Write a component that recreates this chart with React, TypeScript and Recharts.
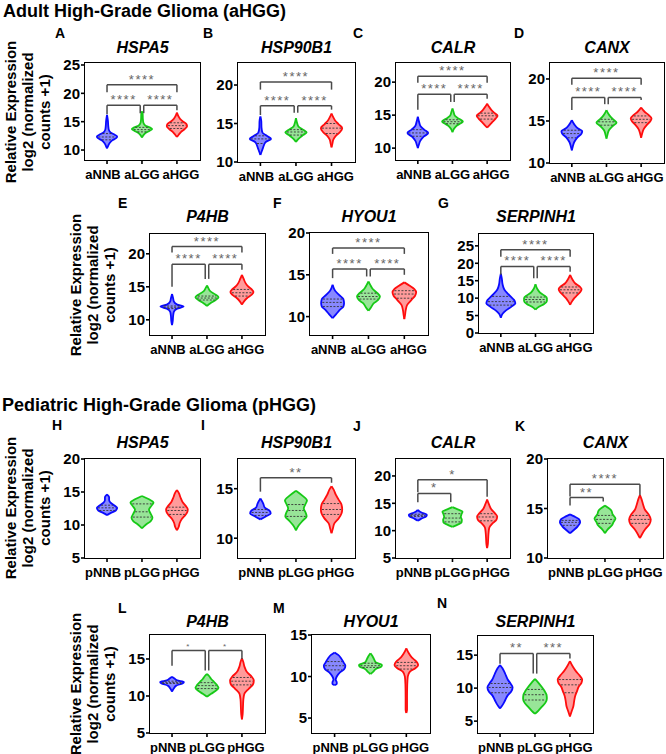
import React from "react";
import { ComposedChart, Area, XAxis, YAxis, ReferenceLine } from "recharts";

type Prof = [number, number][];
type Br = { a: number; b: number; y: number; ya: number; yb: number; t: string };

const FONT = '"Liberation Sans", Arial, Helvetica, sans-serif';

const ADULT = ["aNNB", "aLGG", "aHGG"];
const PED = ["pNNB", "pLGG", "pHGG"];
const GENES_ADULT = ["HSPA5", "HSP90B1", "CALR", "CANX", "P4HB", "HYOU1", "SERPINH1"];
const GENES_PED = ["HSPA5", "HSP90B1", "CALR", "CANX", "P4HB", "HYOU1", "SERPINH1"];

// violin profiles: [expression value, half width (in group units)]
const A_NNB: Prof = [[10.3,0],[10.7,0.03],[11.2,0.07],[11.7,0.15],[12.1,0.26],[12.4,0.29],[12.7,0.22],[13.1,0.1],[13.6,0.05],[14.3,0.035],[15.2,0.025],[16.2,0]];
const A_LGG: Prof = [[12.2,0],[12.6,0.04],[13.0,0.1],[13.4,0.22],[13.7,0.29],[14.0,0.22],[14.3,0.1],[14.8,0.04],[15.5,0.025],[16.4,0.02],[16.8,0]];
const A_HGG: Prof = [[12.3,0],[12.7,0.05],[13.2,0.12],[13.7,0.22],[14.2,0.29],[14.6,0.27],[15.0,0.18],[15.5,0.09],[16.0,0.04],[16.6,0]];
const A_Q = [[11.8,12.3,12.9],[13.2,13.6,14.0],[13.8,14.3,14.8]];

const B_NNB: Prof = [[10.9,0],[11.3,0.03],[11.8,0.07],[12.2,0.1],[12.6,0.15],[13.0,0.3],[13.4,0.18],[13.8,0.06],[14.5,0.03],[15.3,0.025],[15.9,0]];
const B_LGG: Prof = [[12.6,0],[13.0,0.07],[13.5,0.2],[13.85,0.3],[14.2,0.2],[14.6,0.07],[15.1,0.03],[15.7,0]];
const B_HGG: Prof = [[11.9,0],[12.4,0.025],[12.9,0.05],[13.4,0.12],[13.9,0.24],[14.4,0.3],[14.9,0.2],[15.4,0.1],[15.9,0.04],[16.3,0]];
const B_Q = [[12.4,13.0,13.4],[13.5,13.9,14.2],[13.7,14.4,15.0]];

const C_NNB: Prof = [[10.0,0],[10.5,0.03],[11.1,0.07],[11.7,0.16],[12.3,0.3],[12.8,0.18],[13.3,0.08],[13.9,0.04],[14.75,0]];
const C_LGG: Prof = [[12.4,0],[12.9,0.04],[13.4,0.12],[13.8,0.25],[14.05,0.3],[14.4,0.2],[14.9,0.07],[15.5,0.03],[16.0,0]];
const C_HGG: Prof = [[13.1,0],[13.5,0.07],[14.0,0.16],[14.5,0.25],[14.9,0.3],[15.3,0.22],[15.8,0.12],[16.3,0.05],[16.75,0]];
const C_Q = [[11.8,12.3,12.8],[13.7,14.0,14.3],[14.4,14.9,15.3]];

const D_NNB: Prof = [[11.5,0],[12.0,0.03],[12.5,0.07],[13.0,0.15],[13.5,0.28],[13.8,0.3],[14.1,0.18],[14.6,0.07],[15.1,0]];
const D_LGG: Prof = [[12.9,0],[13.4,0.03],[13.9,0.07],[14.4,0.18],[14.8,0.29],[15.1,0.22],[15.5,0.12],[15.9,0.05],[16.3,0]];
const D_HGG: Prof = [[13.0,0],[13.5,0.03],[14.0,0.07],[14.6,0.18],[15.0,0.27],[15.3,0.3],[15.7,0.22],[16.1,0.1],[16.6,0]];
const D_Q = [[13.0,13.5,13.9],[14.5,14.9,15.2],[14.8,15.2,15.6]];

const E_NNB: Prof = [[9.2,0],[9.8,0.02],[10.5,0.03],[11.2,0.05],[11.7,0.15],[12.0,0.33],[12.3,0.15],[12.8,0.05],[13.3,0.03],[13.9,0]];
const E_LGG: Prof = [[12.1,0],[12.5,0.1],[13.0,0.25],[13.4,0.33],[13.8,0.25],[14.3,0.1],[14.8,0.04],[15.2,0]];
const E_HGG: Prof = [[12.3,0],[12.8,0.06],[13.3,0.15],[13.8,0.28],[14.2,0.33],[14.6,0.28],[15.1,0.17],[15.6,0.1],[16.2,0.05],[16.8,0]];
const E_Q = [[11.7,11.9,12.1],[13.0,13.3,13.6],[13.6,14.1,14.6]];

const F_NNB: Prof = [[9.8,0],[10.3,0.1],[10.8,0.2],[11.2,0.3],[11.6,0.32],[12.1,0.3],[12.6,0.18],[13.1,0.07],[13.8,0]];
const F_LGG: Prof = [[10.7,0],[11.1,0.07],[11.6,0.15],[12.0,0.27],[12.4,0.32],[12.8,0.25],[13.3,0.12],[13.8,0.05],[14.2,0]];
const F_HGG: Prof = [[9.7,0],[10.2,0.02],[10.8,0.04],[11.4,0.08],[12.0,0.2],[12.5,0.3],[12.9,0.33],[13.3,0.28],[13.7,0.15],[14.1,0]];
const F_Q = [[11.2,11.7,12.1],[12.1,12.4,12.8],[12.2,12.7,13.1]];

const G_NNB: Prof = [[4.4,0],[5.5,0.05],[6.5,0.15],[7.5,0.3],[8.5,0.42],[9.5,0.38],[10.5,0.28],[11.5,0.18],[12.5,0.1],[14.0,0.05],[15.5,0.03],[17.0,0]];
const G_LGG: Prof = [[6.7,0],[7.5,0.1],[8.3,0.25],[9.2,0.33],[10.0,0.33],[10.8,0.25],[11.7,0.12],[12.7,0.05],[14.0,0]];
const G_HGG: Prof = [[8.1,0],[9.0,0.05],[10.0,0.12],[11.0,0.22],[12.0,0.31],[12.6,0.33],[13.3,0.28],[14.2,0.15],[15.3,0.07],[16.7,0]];
const G_Q = [[8.0,9.0,10.5],[8.9,9.6,10.3],[11.5,12.4,13.2]];

const H_NNB: Prof = [[11.5,0],[11.8,0.1],[12.2,0.25],[12.6,0.29],[13.0,0.2],[13.4,0.1],[13.8,0.06],[14.2,0.06],[14.65,0]];
const H_LGG: Prof = [[9.5,0],[10.0,0.1],[10.6,0.25],[11.1,0.3],[11.7,0.25],[12.3,0.2],[12.9,0.27],[13.4,0.33],[13.9,0.2],[14.4,0]];
const H_HGG: Prof = [[9.2,0],[9.7,0.05],[10.3,0.08],[10.9,0.14],[11.5,0.24],[12.0,0.3],[12.4,0.31],[12.9,0.25],[13.5,0.16],[14.2,0.1],[14.8,0.06],[15.3,0]];
const H_Q = [[12.2,12.6,13.0],[11.2,12.0,13.2],[11.6,12.2,12.7]];

const I_NNB: Prof = [[11.9,0],[12.2,0.15],[12.5,0.29],[12.8,0.25],[13.1,0.12],[13.5,0.08],[14.0,0]];
const I_LGG: Prof = [[10.8,0],[11.3,0.08],[11.8,0.2],[12.2,0.3],[12.6,0.27],[13.0,0.22],[13.4,0.26],[13.8,0.31],[14.3,0.18],[14.8,0]];
const I_HGG: Prof = [[10.5,0],[11.0,0.04],[11.5,0.08],[12.0,0.2],[12.5,0.28],[12.9,0.3],[13.4,0.28],[13.9,0.2],[14.4,0.12],[14.9,0.06],[15.25,0]];
const I_Q = [[12.3,12.6,12.9],[12.2,12.8,13.4],[12.4,12.9,13.5]];

const J_NNB: Prof = [[11.8,0],[12.2,0.1],[12.6,0.24],[12.9,0.26],[13.2,0.15],[13.5,0.05],[13.8,0]];
const J_LGG: Prof = [[10.7,0],[11.1,0.15],[11.5,0.26],[12.0,0.27],[12.5,0.24],[13.0,0.26],[13.5,0.29],[13.9,0.15],[14.3,0]];
const J_HGG: Prof = [[6.8,0],[7.5,0.02],[8.5,0.03],[9.5,0.04],[10.5,0.06],[11.3,0.15],[12.0,0.27],[12.6,0.29],[13.2,0.22],[13.9,0.12],[14.7,0.06],[15.7,0]];
const J_Q = [[12.6,12.8,13.0],[11.6,12.3,13.1],[11.8,12.5,13.1]];

const K_NNB: Prof = [[12.5,0],[12.8,0.1],[13.2,0.22],[13.6,0.29],[13.9,0.26],[14.2,0.12],[14.4,0]];
const K_LGG: Prof = [[12.5,0],[12.9,0.08],[13.3,0.2],[13.6,0.24],[14.0,0.3],[14.4,0.22],[14.8,0.18],[15.1,0.08],[15.3,0]];
const K_HGG: Prof = [[12.0,0],[12.4,0.06],[12.9,0.15],[13.4,0.27],[13.9,0.31],[14.4,0.25],[14.9,0.14],[15.4,0.09],[15.9,0.05],[16.35,0]];
const K_Q = [[13.3,13.6,13.8],[13.5,13.9,14.3],[13.5,13.9,14.3]];

const L_NNB: Prof = [[10.6,0],[11.0,0.05],[11.4,0.12],[11.7,0.3],[11.9,0.34],[12.1,0.15],[12.4,0.06],[12.6,0]];
const L_LGG: Prof = [[9.9,0],[10.3,0.12],[10.7,0.25],[11.1,0.33],[11.5,0.28],[11.9,0.2],[12.3,0.12],[12.7,0.06],[13.0,0]];
const L_HGG: Prof = [[6.85,0],[7.5,0.02],[8.5,0.03],[9.5,0.04],[10.3,0.07],[11.0,0.2],[11.6,0.32],[12.1,0.34],[12.6,0.28],[13.2,0.15],[14.0,0.07],[14.6,0.04],[15.1,0]];
const L_Q = [[11.7,11.8,12.0],[11.0,11.4,11.8],[11.5,12.0,12.5]];

const M_NNB: Prof = [[8.95,0],[9.1,0.06],[9.3,0.06],[9.6,0.03],[10.0,0.06],[10.5,0.15],[10.9,0.27],[11.3,0.3],[11.7,0.25],[12.2,0.18],[12.6,0.1],[12.9,0]];
const M_LGG: Prof = [[10.3,0],[10.6,0.08],[10.9,0.15],[11.2,0.3],[11.4,0.32],[11.7,0.15],[12.1,0.1],[12.5,0.05],[12.8,0]];
const M_HGG: Prof = [[5.6,0],[6.0,0.02],[7.5,0.02],[9.0,0.025],[10.0,0.04],[10.6,0.1],[11.0,0.25],[11.4,0.33],[11.8,0.28],[12.3,0.15],[12.8,0.07],[13.4,0]];
const M_Q = [[10.8,11.3,11.8],[11.1,11.3,11.6],[10.9,11.3,11.7]];

const N_NNB: Prof = [[6.9,0],[7.5,0.08],[8.2,0.15],[8.9,0.22],[9.5,0.32],[10.1,0.36],[10.7,0.3],[11.3,0.22],[11.9,0.17],[12.5,0.12],[13.0,0.07],[13.5,0]];
const N_LGG: Prof = [[6.1,0],[6.6,0.1],[7.2,0.2],[7.8,0.3],[8.4,0.34],[9.0,0.33],[9.6,0.27],[10.2,0.19],[10.8,0.1],[11.4,0]];
const N_HGG: Prof = [[5.7,0],[6.5,0.05],[7.3,0.1],[8.0,0.12],[8.8,0.15],[9.5,0.2],[10.2,0.25],[10.8,0.33],[11.3,0.35],[11.9,0.28],[12.5,0.18],[13.2,0.09],[14.1,0]];
const N_Q = [[9.3,10.1,10.7],[8.2,9.0,9.8],[9.3,10.5,11.3]];

// significance brackets: groups a..b, bar level y, leg ends ya / yb, label
const A_BR: Br[] = [{a:1,b:3,y:21.5,ya:20.2,yb:20.2,t:"****"},{a:1,b:2,y:17.9,ya:16.3,yb:16.5,t:"****"},{a:2,b:3,y:17.9,ya:16.5,yb:17.0,t:"****"}];
const B_BR: Br[] = [{a:1,b:3,y:20.4,ya:19.4,yb:19.4,t:"****"},{a:1,b:2,y:17.3,ya:16.1,yb:16.4,t:"****"},{a:2,b:3,y:17.3,ya:16.4,yb:16.8,t:"****"}];
const C_BR: Br[] = [{a:1,b:3,y:20.9,ya:19.9,yb:19.9,t:"****"},{a:1,b:2,y:18.15,ya:15.8,yb:17.0,t:"****"},{a:2,b:3,y:18.15,ya:17.0,yb:17.5,t:"****"}];
const D_BR: Br[] = [{a:1,b:3,y:20.1,ya:19.3,yb:19.3,t:"****"},{a:1,b:2,y:17.8,ya:16.3,yb:17.0,t:"****"},{a:2,b:3,y:17.8,ya:17.0,yb:17.5,t:"****"}];
const E_BR: Br[] = [{a:1,b:3,y:21.1,ya:20.2,yb:20.2,t:"****"},{a:1,b:2,y:18.4,ya:15.0,yb:16.2,t:"****"},{a:2,b:3,y:18.4,ya:16.2,yb:17.6,t:"****"}];
const F_BR: Br[] = [{a:1,b:3,y:18.2,ya:17.5,yb:17.5,t:"****"},{a:1,b:2,y:15.7,ya:14.6,yb:14.8,t:"****"},{a:2,b:3,y:15.7,ya:14.8,yb:15.0,t:"****"}];
const G_BR: Br[] = [{a:1,b:3,y:23.9,ya:21.9,yb:21.9,t:"****"},{a:1,b:2,y:19.1,ya:16.7,yb:15.7,t:"****"},{a:2,b:3,y:19.1,ya:15.7,yb:17.6,t:"****"}];
const H_BR: Br[] = [];
const I_BR: Br[] = [{a:1,b:3,y:16.1,ya:14.7,yb:15.6,t:"**"}];
const J_BR: Br[] = [{a:1,b:3,y:19.3,ya:17.0,yb:16.2,t:"*"},{a:1,b:2,y:16.8,ya:15.2,yb:15.2,t:"*"}];
const K_BR: Br[] = [{a:1,b:3,y:17.45,ya:16.2,yb:16.35,t:"****"},{a:1,b:2,y:16.1,ya:15.3,yb:15.7,t:"**"}];
const L_BR: Br[] = [{a:1,b:2,y:16.15,ya:14.1,yb:13.45,t:"*"},{a:2,b:3,y:16.15,ya:13.45,yb:15.0,t:"*"}];
const M_BR: Br[] = [];
const N_BR: Br[] = [{a:1,b:2,y:15.25,ya:13.7,yb:12.2,t:"**"},{a:2,b:3,y:15.25,ya:12.2,yb:14.5,t:"***"}];

const COLORS = [
  { stroke: "#0a0aff", fill: "#7373ff" },
  { stroke: "#16c916", fill: "#86e086" },
  { stroke: "#ff0d0d", fill: "#ff8a8a" },
];

type PanelCfg = {
  id: string; gene: string; groups: string[];
  box: { x: number; y: number; w: number; h: number };
  domain: [number, number]; ticks: number[];
  violins: Prof[]; quart: number[][]; brackets: Br[];
  letter: { x: number; y: number }; titleY: number; starSize: number;
};

const PANELS: PanelCfg[] = [
  { id: "A", gene: GENES_ADULT[0], groups: ADULT, box: { x: 85, y: 63, w: 115, h: 97 }, domain: [8.24, 25.35], ticks: [10, 15, 20, 25], violins: [A_NNB, A_LGG, A_HGG], quart: A_Q, brackets: A_BR, letter: { x: 55, y: 37.5 }, titleY: 53.5, starSize: 13 },
  { id: "B", gene: GENES_ADULT[1], groups: ADULT, box: { x: 238, y: 63, w: 117, h: 99 }, domain: [10, 22.86], ticks: [10, 15, 20], violins: [B_NNB, B_LGG, B_HGG], quart: B_Q, brackets: B_BR, letter: { x: 203, y: 37.5 }, titleY: 53.5, starSize: 13 },
  { id: "C", gene: GENES_ADULT[2], groups: ADULT, box: { x: 396, y: 63, w: 114, h: 97 }, domain: [8.2, 22.9], ticks: [10, 15, 20], violins: [C_NNB, C_LGG, C_HGG], quart: C_Q, brackets: C_BR, letter: { x: 353, y: 37.5 }, titleY: 53.5, starSize: 13 },
  { id: "D", gene: GENES_ADULT[3], groups: ADULT, box: { x: 550, y: 63, w: 114, h: 100 }, domain: [10, 21.9], ticks: [10, 15, 20], violins: [D_NNB, D_LGG, D_HGG], quart: D_Q, brackets: D_BR, letter: { x: 514, y: 37.5 }, titleY: 53.5, starSize: 13 },
  { id: "E", gene: GENES_ADULT[4], groups: ADULT, box: { x: 150, y: 234, w: 115, h: 101 }, domain: [7.7, 23.0], ticks: [10, 15, 20], violins: [E_NNB, E_LGG, E_HGG], quart: E_Q, brackets: E_BR, letter: { x: 118, y: 208 }, titleY: 223, starSize: 13 },
  { id: "F", gene: GENES_ADULT[5], groups: ADULT, box: { x: 310, y: 233, w: 118, h: 102 }, domain: [7.8, 20], ticks: [10, 15, 20], violins: [F_NNB, F_LGG, F_HGG], quart: F_Q, brackets: F_BR, letter: { x: 273, y: 208 }, titleY: 223, starSize: 13 },
  { id: "G", gene: GENES_ADULT[6], groups: ADULT, box: { x: 479, y: 234, w: 114, h: 99 }, domain: [0, 28.4], ticks: [0, 5, 10, 15, 20, 25], violins: [G_NNB, G_LGG, G_HGG], quart: G_Q, brackets: G_BR, letter: { x: 438, y: 208 }, titleY: 223, starSize: 13 },
  { id: "H", gene: GENES_PED[0], groups: PED, box: { x: 85, y: 459, w: 115, h: 99 }, domain: [5, 20], ticks: [5, 10, 15, 20], violins: [H_NNB, H_LGG, H_HGG], quart: H_Q, brackets: H_BR, letter: { x: 52, y: 430 }, titleY: 448.5, starSize: 13 },
  { id: "I", gene: GENES_PED[1], groups: PED, box: { x: 238, y: 459, w: 117, h: 99 }, domain: [8, 18], ticks: [10, 15], violins: [I_NNB, I_LGG, I_HGG], quart: I_Q, brackets: I_BR, letter: { x: 201, y: 430 }, titleY: 448.5, starSize: 13 },
  { id: "J", gene: GENES_PED[2], groups: PED, box: { x: 396, y: 459, w: 114, h: 99 }, domain: [5, 23.1], ticks: [5, 10, 15, 20], violins: [J_NNB, J_LGG, J_HGG], quart: J_Q, brackets: J_BR, letter: { x: 353, y: 431 }, titleY: 448.5, starSize: 13 },
  { id: "K", gene: GENES_PED[3], groups: PED, box: { x: 548, y: 459, w: 115, h: 99 }, domain: [10, 20], ticks: [10, 15, 20], violins: [K_NNB, K_LGG, K_HGG], quart: K_Q, brackets: K_BR, letter: { x: 515, y: 431 }, titleY: 448.5, starSize: 13 },
  { id: "L", gene: GENES_PED[4], groups: PED, box: { x: 150, y: 635, w: 115, h: 98 }, domain: [5, 18.24], ticks: [5, 10, 15], violins: [L_NNB, L_LGG, L_HGG], quart: L_Q, brackets: L_BR, letter: { x: 118, y: 613 }, titleY: 628, starSize: 8 },
  { id: "M", gene: GENES_PED[5], groups: PED, box: { x: 312, y: 635, w: 118, h: 98 }, domain: [3.2, 15], ticks: [5, 10, 15], violins: [M_NNB, M_LGG, M_HGG], quart: M_Q, brackets: M_BR, letter: { x: 273, y: 613 }, titleY: 628, starSize: 13 },
  { id: "N", gene: GENES_PED[6], groups: PED, box: { x: 478, y: 636, w: 115, h: 97 }, domain: [3.2, 17.9], ticks: [5, 10, 15], violins: [N_NNB, N_LGG, N_HGG], quart: N_Q, brackets: N_BR, letter: { x: 437, y: 608 }, titleY: 628, starSize: 13 },
];

const X_DOMAIN: [number, number] = [0.37, 3.66];
const GAP = 0.05;

function widthAt(p: Prof, y: number): number {
  for (let i = 0; i < p.length - 1; i++) {
    const [y0, w0] = p[i];
    const [y1, w1] = p[i + 1];
    if (y >= y0 && y <= y1) return w0 + ((w1 - w0) * (y - y0)) / (y1 - y0);
  }
  return 0;
}

const Txt: React.FC<{ x: number; y: number; size: number; anchor?: "start" | "middle"; italic?: boolean; children: React.ReactNode }> = ({ x, y, size, anchor = "start", italic = false, children }) => (
  <div
    style={{
      position: "absolute", left: x, top: y - 0.8465 * size, fontSize: size, lineHeight: `${size}px`,
      fontWeight: 700, fontStyle: italic ? "italic" : "normal", whiteSpace: "nowrap", fontFamily: FONT, color: "#000",
      transform: anchor === "middle" ? "translateX(-50%)" : undefined,
    }}
  >
    {children}
  </div>
);

const YLabel: React.FC<{ cx: number; cy: number }> = ({ cx, cy }) => (
  <div
    style={{
      position: "absolute", left: cx - 80, top: cy - 26, width: 160, height: 52, transform: "rotate(-90deg)",
      textAlign: "center", fontSize: 15, lineHeight: "17px", fontWeight: 700, fontFamily: FONT, color: "#000",
    }}
  >
    Relative Expression
    <br />
    log2 (normalized
    <br />
    counts +1)
  </div>
);

const XTick = (props: any) => {
  const { x, y, payload, groups } = props;
  const v = Math.round(payload.value);
  const dx = (v - 2) * 4;
  return (
    <text x={x + dx} y={y} dy="0.71em" textAnchor="middle" fill="#000" fontSize={13} fontWeight={700} fontFamily={FONT}>
      {groups[v - 1]}
    </text>
  );
};

const ML = 45, MT = 8, MR = 8, MB = 30;

const Panel: React.FC<{ p: PanelCfg }> = ({ p }) => {
  const W = p.box.w + ML + MR;
  const H = p.box.h + MT + MB;
  const tickStyle = { fill: "#000", fontSize: 15, fontWeight: 700, fontFamily: FONT };
  const lines: React.ReactNode[] = [];
  p.violins.forEach((v, i) => {
    const c = i + 1;
    p.quart[i].forEach((q, k) => {
      const w = widthAt(v, q) - 0.03;
      if (w <= 0) return;
      lines.push(
        <ReferenceLine key={`q${i}-${k}`} segment={[{ x: c - w, y: q }, { x: c + w, y: q }]} stroke="#333" strokeWidth={0.9} strokeDasharray="2 1.5" ifOverflow="visible" />
      );
    });
  });
  p.brackets.forEach((b, j) => {
    const xa = b.a === 2 ? b.a + GAP : b.a;
    const xb = b.b === 2 && b.a === 1 ? b.b - GAP : b.b;
    lines.push(
      <ReferenceLine key={`bh${j}`} segment={[{ x: xa, y: b.y }, { x: xb, y: b.y }]} stroke="#4a4a4a" strokeWidth={1.5} ifOverflow="visible"
        label={{ value: b.t, position: "top", offset: 1, fill: "#666", fontSize: p.starSize, fontFamily: FONT, letterSpacing: 1.5 }} />
    );
    lines.push(
      <ReferenceLine key={`bl${j}`} segment={[{ x: xa, y: b.y }, { x: xa, y: b.ya }]} stroke="#4a4a4a" strokeWidth={1.5} ifOverflow="visible" />
    );
    lines.push(
      <ReferenceLine key={`br${j}`} segment={[{ x: xb, y: b.y }, { x: xb, y: b.yb }]} stroke="#4a4a4a" strokeWidth={1.5} ifOverflow="visible" />
    );
  });
  return (
    <>
      <div style={{ position: "absolute", left: p.box.x - ML, top: p.box.y - MT, width: W, height: H }}>
        <ComposedChart layout="vertical" width={W} height={H} margin={{ top: MT, right: MR, bottom: 0, left: 0 }}>
          <XAxis type="number" domain={X_DOMAIN} ticks={[1, 2, 3]} allowDataOverflow height={MB}
            tick={<XTick groups={p.groups} />} interval={0}
            axisLine={false} tickLine={{ stroke: "#000", strokeWidth: 1.6 }} tickSize={4} tickMargin={6} />
          <YAxis type="number" dataKey="y" domain={p.domain} ticks={p.ticks} allowDataOverflow width={ML} reversed
            tick={tickStyle} axisLine={false} tickLine={{ stroke: "#000", strokeWidth: 1.6 }} tickSize={4} tickMargin={1} interval={0} />
          {p.violins.map((v, i) => (
            <Area
              key={`v${i}`}
              data={v.map(([y, w]) => ({ y, r: [i + 1 - w, i + 1 + w] }))}
              dataKey="r"
              type="monotone"
              stroke={COLORS[i].stroke}
              strokeWidth={1.8}
              fill={COLORS[i].fill}
              fillOpacity={0.85}
              dot={false}
              activeDot={false}
              isAnimationActive={false}
            />
          ))}
          {lines}
        </ComposedChart>
        <div style={{ position: "absolute", left: ML - 0.8, top: MT - 0.8, width: p.box.w + 1.6, height: p.box.h + 1.6, border: "1.7px solid #000", boxSizing: "border-box", pointerEvents: "none" }} />
      </div>
      <Txt x={p.letter.x} y={p.letter.y} size={14}>{p.id}</Txt>
      <Txt x={p.box.x + p.box.w / 2} y={p.titleY} size={16} anchor="middle" italic>{p.gene}</Txt>
    </>
  );
};

export default function App() {
  return (
    <div style={{ position: "absolute", left: 0, top: 0, width: 666, height: 754, background: "#fff", overflow: "hidden", fontFamily: FONT }}>
      <Txt x={3} y={17} size={18}>Adult High-Grade Glioma (aHGG)</Txt>
      <Txt x={2} y={411} size={18}>Pediatric High-Grade Glioma (pHGG)</Txt>
      <YLabel cx={28} cy={112} />
      <YLabel cx={93} cy={285} />
      <YLabel cx={28} cy={508} />
      <YLabel cx={93} cy={684} />
      {PANELS.map((p) => (
        <Panel key={p.id} p={p} />
      ))}
    </div>
  );
}
